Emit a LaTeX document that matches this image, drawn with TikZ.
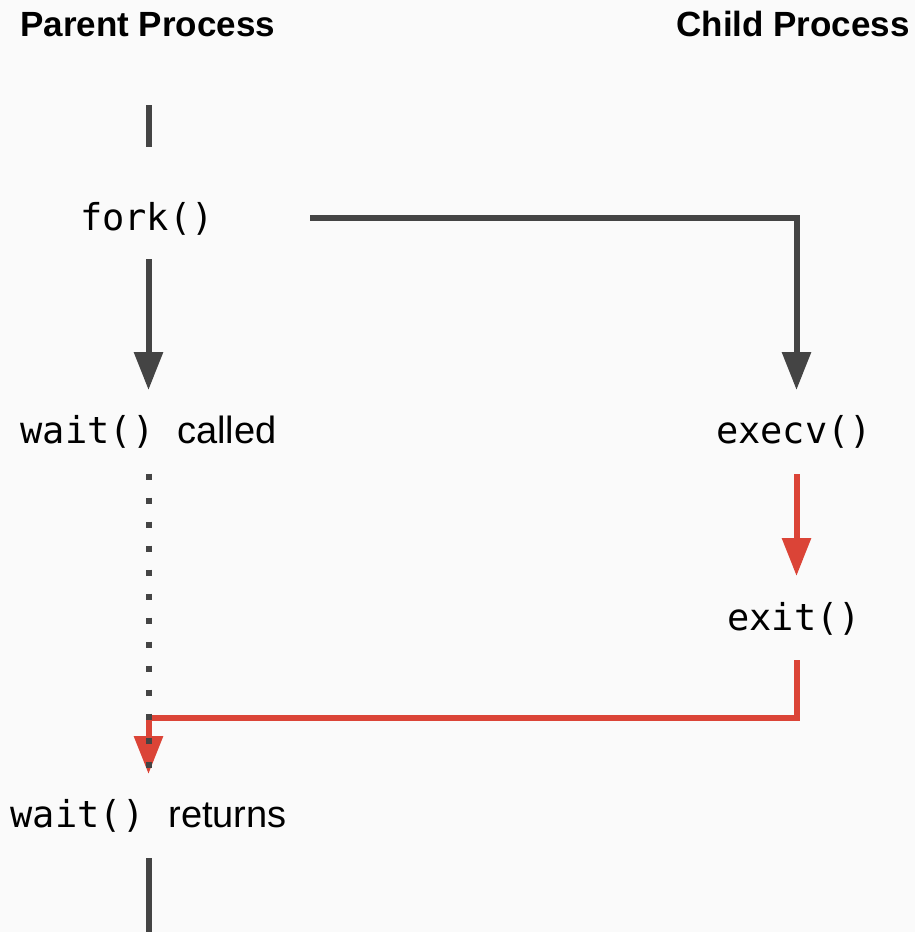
\documentclass[tikz,border=0pt]{standalone}
\usepackage{fontspec}
\setmainfont{Liberation Sans}
\newfontfamily\monof{DejaVu Sans Mono}
\usetikzlibrary{arrows.meta}
\definecolor{bg}{HTML}{FAFAFA}
\definecolor{ink}{HTML}{444444}
\definecolor{accent}{HTML}{DB4437}
\newcommand{\codefont}{\monof\fontsize{37}{42}\selectfont}
\begin{document}
\begin{tikzpicture}[x=1pt,y=-1pt,
  title/.style={font=\fontsize{35}{40}\selectfont\bfseries, inner sep=0pt, text=black},
  code/.style={font=\codefont, inner sep=0pt, text=black},
  mixed/.style={font=\fontsize{38}{42}\selectfont, inner sep=0pt, text=black},
  flow/.style={draw=ink, line width=6pt, line join=miter},
  flowred/.style={draw=accent, line width=6pt, line join=miter},
  tipgray/.style={-{Triangle[width=28pt,length=38pt]}},
  dotline/.style={draw=ink, line width=6pt, dash pattern=on 6pt off 18pt}]
\fill[bg] (0,0) rectangle (915,932);
\useasboundingbox (0,0) rectangle (915,932);

% titles
\node[title, anchor=base west] (ptitle) at (20,36) {Parent Process};
\node[title, anchor=base east] (ctitle) at (910,36) {Child Process};

% texts
\node[code, anchor=base] (fork) at (147,230) {fork()};
\node[mixed, anchor=base west] (waitc) at (20.5,443) {{\codefont wait()}\hspace{23pt}called};
\node[code, anchor=base] (execv) at (794,443) {execv()};
\node[code, anchor=base] (exit) at (794,630) {exit()};
\node[mixed, anchor=base west] (waitr) at (10.5,827) {{\codefont wait()}\hspace{24pt}returns};

% coordinates
\coordinate (ptop) at (148.5,105);
\coordinate (pforkin) at (148.5,147);
\coordinate (pforkout) at (148.5,259);
\coordinate (pwaittip) at (148.5,390);
\coordinate (hstart) at (310,217.5);
\coordinate (hcorner) at (796.5,217.5);
\coordinate (ctip) at (796.5,390);
\coordinate (exstart) at (796.5,474);
\coordinate (extip) at (796.5,576);
\coordinate (exout) at (796.5,660);
\coordinate (rcorner) at (796.5,717.5);
\coordinate (lcorner) at (148.5,717.5);
\coordinate (rtip) at (148.5,774);
\coordinate (dstart) at (148.5,473.7);
\coordinate (dend) at (148.5,767.7);
\coordinate (pbot) at (148.5,858);
\coordinate (pend) at (148.5,932);

% parent lines
\draw[flow] (ptop) -- (pforkin);
\draw[flow, tipgray] (pforkout) -- (pwaittip);
\draw[flow, tipgray] (hstart) -- (hcorner) -- (ctip);

% red
\draw[flowred, -{Triangle[width=28pt,length=38pt]}, accent] (exstart) -- (extip);
\draw[flowred, -{Triangle[width=28pt,length=38pt]}, accent] (exout) -- (rcorner) -- (lcorner) -- (rtip);

% dotted wait
\draw[dotline] (dstart) -- (dend);

% bottom
\draw[flow] (pbot) -- (pend);
\end{tikzpicture}
\end{document}
